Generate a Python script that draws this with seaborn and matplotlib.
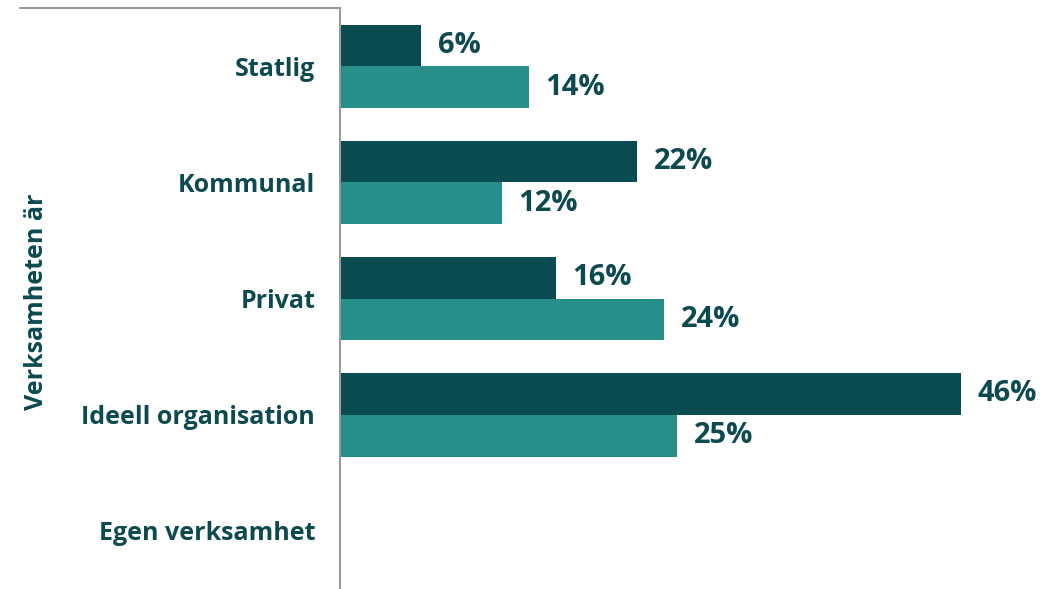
import matplotlib
matplotlib.use("Agg")
import matplotlib.pyplot as plt
import seaborn as sns
import pandas as pd
import numpy as np

categories = ["Statlig", "Kommunal", "Privat", "Ideell organisation", "Egen verksamhet"]
series_names = ["Serie 1", "Serie 2"]
serie1 = [6, 22, 16, 46, np.nan]
serie2 = [14, 12, 24, 25, np.nan]
axis_label = "Verksamheten är"

dark = "#0a4b51"
light = "#288e8a"
text_col = "#0d4a4f"

df = pd.DataFrame({
    "kategori": categories * 2,
    "serie": [series_names[0]] * len(categories) + [series_names[1]] * len(categories),
    "andel": serie1 + serie2,
})

sns.set_style("white")
plt.rcParams["font.family"] = ["Open Sans", "DejaVu Sans"]

fig = plt.figure(figsize=(10.63, 5.89), dpi=100)
ax = fig.add_axes([0.32, 0.0, 0.68, 0.986])

sns.barplot(
    data=df, y="kategori", x="andel", hue="serie",
    order=categories, hue_order=series_names,
    palette=[dark, light], saturation=1, orient="h", width=0.72,
    legend=False, ax=ax, linewidth=0,
)

for c in ax.containers:
    labels = ["" if (np.isnan(b.get_width()) or b.get_width() == 0) else f"{b.get_width():.0f}%"
              for b in c]
    ax.bar_label(c, labels=labels, padding=12, fontsize=21, fontweight="bold", color=text_col)

ax.set_xlim(0, 53.6)
ax.set_ylim(4.5, -0.5)
ax.set_xticks([])
ax.set_xlabel("")
ax.set_ylabel("")
ax.tick_params(axis="y", length=0, pad=18)
for lab in ax.get_yticklabels():
    lab.set_fontsize(18)
    lab.set_fontweight("bold")
    lab.set_color(text_col)

for s in ["top", "right", "bottom"]:
    ax.spines[s].set_visible(False)
ax.spines["left"].set_color("#999999")
ax.spines["left"].set_linewidth(1.5)

# grouping line across the label column
fig.add_artist(plt.Line2D([20 / 1063, 0.32], [0.986, 0.986], color="#999999", lw=1.5))
fig.text(37 / 1063, 0.487, axis_label, rotation=90, ha="center", va="center",
         fontsize=18, fontweight="bold", color=text_col)

fig.savefig("out.png", dpi=100)
